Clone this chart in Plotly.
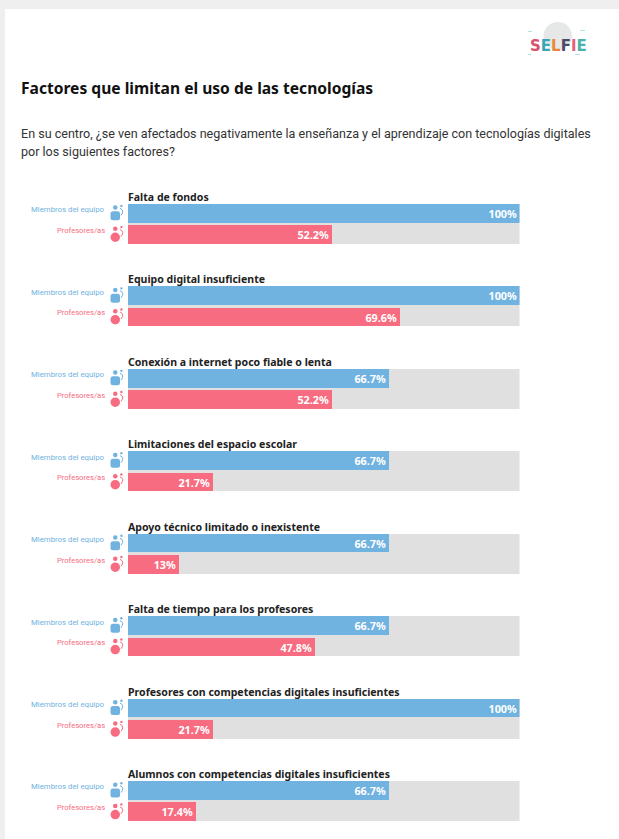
import plotly.graph_objects as go

W, H = 619, 839
title = "Factores que limitan el uso de las tecnologías"
subtitle_lines = ["En su centro, ¿se ven afectados negativamente la enseñanza y el aprendizaje con tecnologías digitales",
                  "por los siguientes factores?"]
factors = [
    "Falta de fondos",
    "Equipo digital insuficiente",
    "Conexión a internet poco fiable o lenta",
    "Limitaciones del espacio escolar",
    "Apoyo técnico limitado o inexistente",
    "Falta de tiempo para los profesores",
    "Profesores con competencias digitales insuficientes",
    "Alumnos con competencias digitales insuficientes",
]
equipo = [100, 100, 66.7, 66.7, 66.7, 66.7, 100, 66.7]
profesores = [52.2, 69.6, 52.2, 21.7, 13, 47.8, 21.7, 17.4]
track = [100] * 8
name_a = "Miembros del equipo"
name_b = "Profesores/as"

BLUE, PINK, GRAY = "#70b2e0", "#f76c80", "#e0e0e0"
FONT = "Noto Sans"
LIGHT = "Roboto"
top, step, bh = 204.0, 82.47, 18.6
ya = [top + i * step + bh / 2 for i in range(8)]
yb = [v + 21.2 for v in ya]
ym = [(a + b) / 2 for a, b in zip(ya, yb)]
px = lambda v: v / W

fig = go.Figure()
fig.add_bar(x=track, y=ym, width=bh + 21.2, orientation="h", marker=dict(color=GRAY, line_width=0), hoverinfo="skip", showlegend=False)
for vals, ys, col, nm in [(equipo, ya, BLUE, name_a), (profesores, yb, PINK, name_b)]:
    fig.add_bar(x=vals, y=ys, width=bh, orientation="h", name=nm, marker=dict(color=col, line_width=0),
                text=[f"{v:g}%" for v in vals], textposition="inside", insidetextanchor="end", textangle=0,
                textfont=dict(family=FONT, size=10.8, color="white", weight="bold"), cliponaxis=False, showlegend=False)

shapes = [
    dict(type="rect", xref="paper", yref="paper", x0=0, x1=1, y0=1 - 9 / H, y1=1, fillcolor="#efefef", line_width=0, layer="below"),
    dict(type="rect", xref="paper", yref="paper", x0=0, x1=px(5), y0=0, y1=1, fillcolor="#efefef", line_width=0, layer="below"),
    dict(type="circle", xref="paper", yref="y", x0=px(543.5), x1=px(572), y0=22, y1=50, fillcolor="#e6e8e8", line_width=0, layer="below"),
]
for x0, y0, w in [(528, 31, 4), (580, 30, 5), (528, 54, 3), (575, 54, 5)]:
    shapes.append(dict(type="rect", xref="paper", yref="y", x0=px(x0), x1=px(x0 + w), y0=y0, y1=y0 + 1,
                       fillcolor="#b5e0ea", line_width=0, layer="below"))
ann = []
def text(x, y, s, size, color, anchor="left", bold=False, family=FONT):
    ann.append(dict(x=px(x), y=y, xref="paper", yref="y", text=f"<b>{s}</b>" if bold else s, showarrow=False,
                    xanchor=anchor, yanchor="middle", align="left",
                    font=dict(family=family, size=size, color=color)))

text(19, 88, title, 15.6, "#111111", bold=True)
for ln, yy in zip(subtitle_lines, [133, 151]):
    text(19, yy, ln, 12.55, "#333333", family=LIGHT)

def icon(cy, col, kind):
    dot = dict(type="circle", xref="paper", yref="y", fillcolor=col, line_width=0)
    shapes.append(dict(dot, x0=px(113), x1=px(117.5), y0=cy - 8, y1=cy - 3.5))
    shapes.append(dict(dot, x0=px(120.2), x1=px(122.6), y0=cy - 8.6, y1=cy - 6.2))
    if kind == "a":
        l, r, t, b, q = px(110.5), px(120), cy - 2, cy + 7, px(2.5)
        shapes.append(dict(type="path", xref="paper", yref="y", fillcolor=col, line_width=0,
                           path=f"M {l+q} {t} L {r-q} {t} Q {r} {t} {r} {t+2.5} L {r} {b-2.5} Q {r} {b} {r-q} {b} "
                                f"L {l+q} {b} Q {l} {b} {l} {b-2.5} L {l} {t+2.5} Q {l} {t} {l+q} {t} Z"))
    else:
        shapes.append(dict(dot, x0=px(110.5), x1=px(120), y0=cy - 2, y1=cy + 7.5))
    shapes.append(dict(type="path", xref="paper", yref="y", line=dict(color=col, width=1),
                       path=f"M {px(120)} {cy-5} Q {px(125)} {cy-3} {px(121)} {cy+2}"))

for f, a, b in zip(factors, ya, yb):
    text(126, a - 16.6, f, 10.55, "#222222", bold=True)
    text(107, a - 3.6, name_a, 7.8, BLUE, anchor="right", family=LIGHT)
    text(107, b - 4.2, name_b, 7.6, PINK, anchor="right", family=LIGHT)
    icon(a, BLUE, "a")
    icon(b, PINK, "b")

letters = [("S", "#d9506a"), ("E", "#3aa6b5"), ("L", "#e8883a"), ("F", "#4a4a6a"), ("I", "#e35f7a"), ("E", "#46b3b0")]
logo = "".join(f'<span style="color:{c}">{l}</span>' for l, c in letters)
text(558.5, 45.5, f"<b>{logo}</b>", 15, "#333333", anchor="center", family="DejaVu Sans")

fig.update_layout(
    width=W, height=H, margin=dict(l=0, r=0, t=0, b=0), autosize=False,
    paper_bgcolor="white", plot_bgcolor="rgba(0,0,0,0)", barmode="overlay", bargap=0,
    uniformtext=dict(minsize=10.8, mode="show"),
    shapes=shapes, annotations=ann, font=dict(family=FONT),
    xaxis=dict(domain=[px(128), px(519.5)], range=[0, 100], visible=False, fixedrange=True),
    yaxis=dict(domain=[0, 1], range=[H, 0], visible=False, fixedrange=True),
)
fig.write_html("out.html", config=dict(displayModeBar=False),
               post_script="document.body.style.margin='0';document.documentElement.style.overflow='hidden';")
